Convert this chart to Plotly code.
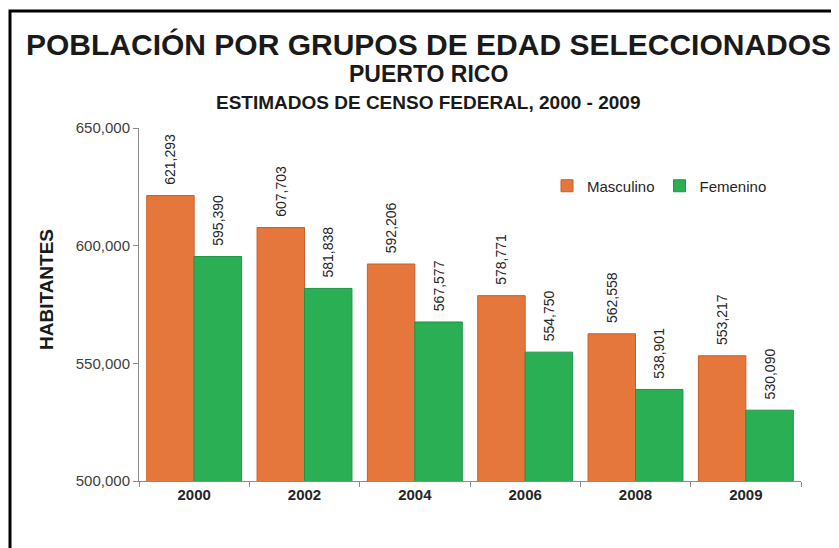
import plotly.graph_objects as go

years = ["2000", "2002", "2004", "2006", "2008", "2009"]
masculino = [621293, 607703, 592206, 578771, 562558, 553217]
femenino = [595390, 581838, 567577, 554750, 538901, 530090]
y_ticks = [500000, 550000, 600000, 650000]

# the page body has an 8px margin, so the figure is drawn 8px smaller and offset
OFF = 8
W, H = 839 - OFF, 548 - OFF
L, R, T, B = 139 - OFF, 38, 128 - OFF, 67
pw, ph = W - L - R, H - T - B

def px(x):
    return (x - OFF - L) / pw

def py(y):
    return 1 - (y - OFF - T) / ph

NB = "\u00a0\u00a0"
FONT = "Liberation Sans, Arial"

fig = go.Figure()
fig.add_trace(go.Bar(
    name="Masculino", x=years, y=masculino,
    marker=dict(color="#E5763C", line=dict(color="#C5602C", width=1)),
    text=[NB + f"{v:,}" for v in masculino], textposition="outside", textangle=-90,
    textfont=dict(size=14, color="#262626", family=FONT),
    constraintext="none", cliponaxis=False,
))
fig.add_trace(go.Bar(
    name="Femenino", x=years, y=femenino,
    marker=dict(color="#2BAF55", line=dict(color="#1F9445", width=1)),
    text=[NB + f"{v:,}" for v in femenino], textposition="outside", textangle=-90,
    textfont=dict(size=14, color="#262626", family=FONT),
    constraintext="none", cliponaxis=False,
))

fig.update_layout(
    width=W, height=H,
    margin=dict(l=L, r=R, t=T, b=B, autoexpand=False),
    paper_bgcolor="white", plot_bgcolor="white",
    font=dict(family=FONT, color="#262626"),
    barmode="group", bargap=0.14, bargroupgap=0.0,
    showlegend=True,
    legend=dict(orientation="h", x=px(547), y=py(186), xanchor="left", yanchor="middle",
                font=dict(size=15, color="#262626"), bgcolor="rgba(0,0,0,0)",
                itemwidth=30, tracegroupgap=0),
)
fig.update_yaxes(
    range=[500000, 650000], tickvals=y_ticks, tickformat=",",
    showgrid=False, zeroline=False,
    showline=True, linecolor="#8C8C8C", linewidth=1,
    ticks="outside", ticklen=5, tickcolor="#8C8C8C",
    tickfont=dict(size=15, color="#404040"),
)
fig.update_xaxes(
    showgrid=False, showline=True, linecolor="#8C8C8C", linewidth=1,
    ticks="outside", ticklen=5, tickcolor="#8C8C8C", tickson="boundaries",
    tickfont=dict(size=15, color="#262626"),
    tickprefix="<b>", ticksuffix="</b>",
)

cx = px(428)
fig.add_annotation(text="<b>POBLACIÓN POR GRUPOS DE EDAD SELECCIONADOS</b>",
                   xref="paper", yref="paper", x=cx, y=py(44), showarrow=False,
                   xanchor="center", yanchor="middle",
                   font=dict(size=30, color="#1A1A1A"))
fig.add_annotation(text="<b>PUERTO RICO</b>",
                   xref="paper", yref="paper", x=cx, y=py(74), showarrow=False,
                   xanchor="center", yanchor="middle",
                   font=dict(size=23, color="#1A1A1A"))
fig.add_annotation(text="<b>ESTIMADOS DE CENSO FEDERAL, 2000 - 2009</b>",
                   xref="paper", yref="paper", x=cx, y=py(102), showarrow=False,
                   xanchor="center", yanchor="middle",
                   font=dict(size=19, color="#1A1A1A"))
fig.add_annotation(text="<b>HABITANTES</b>",
                   xref="paper", yref="paper", x=px(46), y=py(290), showarrow=False,
                   xanchor="center", yanchor="middle", textangle=-90,
                   font=dict(size=19, color="#1A1A1A"))

fig.add_shape(type="rect", xref="paper", yref="paper",
              x0=px(10), x1=px(860), y0=py(580), y1=py(11),
              line=dict(color="black", width=3), fillcolor="rgba(0,0,0,0)", layer="above")

fig.write_html("out.html")
